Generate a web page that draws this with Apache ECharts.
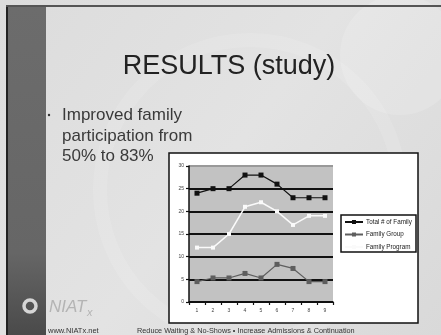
<!DOCTYPE html>
<html>
<head>
<meta charset="utf-8">
<style>
  html, body { margin: 0; padding: 0; background: #e2e2e2; }
  #chart { width: 441px; height: 335px; }
</style>
<script src="https://cdn.jsdelivr.net/npm/echarts@6/dist/echarts.min.js"></script>
</head>
<body>
<div id="chart"></div>
<script>
// Sessions 1..9
const categories = ['1', '2', '3', '4', '5', '6', '7', '8', '9'];
const totalFamily   = [24, 25, 25, 28, 28, 26, 23, 23, 23];
const familyGroup   = [4.5, 5.3, 5.3, 6.3, 5.3, 8.3, 7.4, 4.5, 4.5];
const familyProgram = [12, 12, 15, 21, 22, 20, 17, 19, 19];
const seriesNames = ['Total # of Family', 'Family Group', 'Family Program'];
const yTicks = { min: 0, max: 30, interval: 5 };

const FONT = '"Liberation Sans", Arial, sans-serif';
const chart = echarts.init(document.getElementById('chart'), null, { renderer: 'canvas' });

chart.setOption({
  backgroundColor: 'transparent',
  animation: false,
  textStyle: { fontFamily: FONT },
  graphic: [
    // slide background
    { type: 'rect', z: -10, shape: { x: 0, y: 0, width: 441, height: 335 },
      style: { fill: new echarts.graphic.LinearGradient(0, 0, 1, 1, [
        { offset: 0, color: '#dcdcdc' }, { offset: 0.5, color: '#e3e3e3' }, { offset: 1, color: '#d9d9d9' }]) } },
    { type: 'circle', z: -9, shape: { cx: 250, cy: 190, r: 150 },
      style: { fill: 'none', stroke: 'rgba(255,255,255,0.12)', lineWidth: 14 } },
    { type: 'circle', z: -9, shape: { cx: 400, cy: 55, r: 60 },
      style: { fill: 'rgba(255,255,255,0.15)' } },
    // dark left band
    { type: 'rect', z: -8, shape: { x: 6, y: 6, width: 40, height: 329 },
      style: { fill: new echarts.graphic.LinearGradient(0, 0, 0, 1, [
        { offset: 0, color: '#6c6c6c' }, { offset: 0.75, color: '#666' }, { offset: 1, color: '#4a4a4a' }]) } },
    { type: 'line', z: -7, shape: { x1: 7, y1: 6, x2: 7, y2: 335 }, style: { stroke: '#222', lineWidth: 2 } },
    { type: 'line', z: -7, shape: { x1: 6, y1: 6, x2: 441, y2: 6 }, style: { stroke: '#555', lineWidth: 2 } },
    // heading
    { type: 'text', x: 229, y: 67, style: { text: 'RESULTS (study)', font: '27px ' + FONT,
      fill: '#222', align: 'center', verticalAlign: 'middle' } },
    // bullet
    { type: 'circle', shape: { cx: 49, cy: 115, r: 1.2 }, style: { fill: '#333' } },
    { type: 'text', x: 62, y: 115, style: { text: 'Improved family', font: '17px ' + FONT,
      fill: '#3a3a3a', verticalAlign: 'middle' } },
    { type: 'text', x: 62, y: 136, style: { text: 'participation from', font: '17px ' + FONT,
      fill: '#3a3a3a', verticalAlign: 'middle' } },
    { type: 'text', x: 62, y: 156, style: { text: '50% to 83%', font: '17px ' + FONT,
      fill: '#3a3a3a', verticalAlign: 'middle' } },
    // chart frame
    { type: 'rect', z: -5, shape: { x: 169, y: 153, width: 249, height: 170 },
      style: { fill: '#fff', stroke: '#111', lineWidth: 1.5 } },
    // legend frame
    { type: 'rect', z: -4, shape: { x: 341, y: 215, width: 75, height: 37 },
      style: { fill: '#fff', stroke: '#111', lineWidth: 1.5 } },
    // logo
    { type: 'circle', shape: { cx: 30, cy: 306, r: 6 },
      style: { fill: 'none', stroke: '#d6d6d6', lineWidth: 3.5 } },
    { type: 'text', x: 49, y: 307, style: { text: 'NIAT', font: 'italic 17px ' + FONT,
      fill: '#b4b4b4', verticalAlign: 'middle' } },
    { type: 'text', x: 87, y: 313, style: { text: 'x', font: 'italic 11px ' + FONT,
      fill: '#b4b4b4', verticalAlign: 'middle' } },
    // footer
    { type: 'text', x: 48, y: 331, style: { text: 'www.NIATx.net', font: '7.5px ' + FONT,
      fill: '#333', verticalAlign: 'middle' } },
    { type: 'text', x: 137, y: 331, style: {
      text: 'Reduce Waiting & No-Shows \u2022 Increase Admissions & Continuation', font: '7.3px ' + FONT,
      fill: '#333', verticalAlign: 'middle' } }
  ],
  grid: {
    left: 189, top: 166, width: 144, height: 136,
    show: true, backgroundColor: '#c2c2c2', borderWidth: 0
  },
  legend: {
    data: seriesNames,
    orient: 'vertical',
    left: 344, top: 219,
    itemWidth: 18, itemHeight: 5, itemGap: 6.5,
    padding: 0,
    textStyle: { fontSize: 6.3, color: '#222', fontFamily: FONT, padding: [0, 0, 0, -2] }
  },
  xAxis: {
    type: 'category',
    data: categories,
    boundaryGap: true,
    axisLine: { lineStyle: { color: '#111', width: 1.5 } },
    axisTick: { show: true, length: 3, lineStyle: { color: '#111', width: 1.2 } },
    axisLabel: { fontSize: 5, color: '#444', margin: 6 },
    splitLine: { show: false }
  },
  yAxis: {
    type: 'value',
    min: yTicks.min, max: yTicks.max, interval: yTicks.interval,
    axisLine: { show: true, lineStyle: { color: '#111', width: 1.5 } },
    axisTick: { show: true, length: 3, lineStyle: { color: '#111', width: 1.2 } },
    axisLabel: { fontSize: 5, color: '#444', margin: 5 },
    splitLine: { show: true, lineStyle: {
      color: ['#111', '#111', '#111', '#111', '#111', '#111', '#999'], width: 1.8 } }
  },
  series: [
    { name: seriesNames[0], type: 'line', data: totalFamily,
      symbol: 'rect', symbolSize: 5,
      itemStyle: { color: '#111' }, lineStyle: { color: '#111', width: 1.2 }, z: 4 },
    { name: seriesNames[1], type: 'line', data: familyGroup,
      symbol: 'rect', symbolSize: 5,
      itemStyle: { color: '#5e5e5e' }, lineStyle: { color: '#5e5e5e', width: 1.2 }, z: 3 },
    { name: seriesNames[2], type: 'line', data: familyProgram,
      symbol: 'rect', symbolSize: 4,
      itemStyle: { color: '#fafafa' }, lineStyle: { color: '#fafafa', width: 1.5 }, z: 3 }
  ]
});
</script>
</body>
</html>
